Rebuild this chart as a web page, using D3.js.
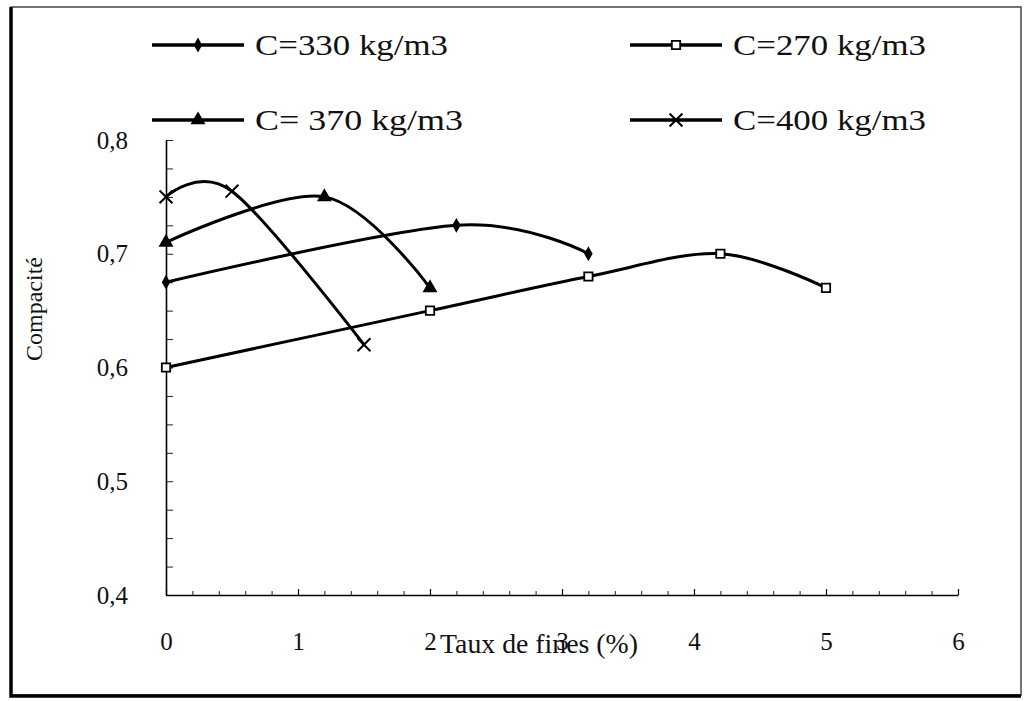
<!DOCTYPE html>
<html>
<head>
<meta charset="utf-8">
<script src="https://cdn.jsdelivr.net/npm/d3@7"></script>
<style>
  body { margin: 0; background: #fff; }
  svg { display: block; font-family: "Liberation Serif", "DejaVu Serif", serif; }
</style>
</head>
<body>
<svg id="chart"></svg>
<script>
// values
const fines330 = [0, 2.2, 3.2];
const comp330 = [0.675, 0.725, 0.70];
const fines270 = [0, 2, 3.2, 4.2, 5];
const comp270 = [0.60, 0.65, 0.68, 0.70, 0.67];
const fines370 = [0, 1.2, 2];
const comp370 = [0.71, 0.75, 0.67];
const fines400 = [0, 0.5, 1.5];
const comp400 = [0.75, 0.755, 0.62];

const seriesNames = ["C=330 kg/m3", "C=270 kg/m3", "C= 370 kg/m3", "C=400 kg/m3"];
const xTicks = [0, 1, 2, 3, 4, 5, 6];
const yTicks = [0.4, 0.5, 0.6, 0.7, 0.8];

const W = 1027, H = 701;
const margin = { left: 166, right: 69, top: 140, bottom: 106 };

const svg = d3.select('#chart').attr('width', W).attr('height', H);

// frame with the heavy left / bottom edge
svg.append('rect')
  .attr('x', 11).attr('y', 7).attr('width', 1010).attr('height', 688)
  .attr('fill', 'none').attr('stroke', '#444').attr('stroke-width', 1.5);
svg.append('path')
  .attr('d', `M11,7 V696 H1021`)
  .attr('fill', 'none').attr('stroke', '#000').attr('stroke-width', 3.5);

const xScale = d3.scaleLinear().domain([0, 6]).range([margin.left, W - margin.right]);
const yScale = d3.scaleLinear().domain([0.4, 0.8]).range([H - margin.bottom, margin.top]);

const fr = d3.formatLocale({ decimal: ",", thousands: " ", grouping: [3], currency: ["", "€"] });

// minor ticks
svg.append('g')
  .attr('transform', `translate(${margin.left},0)`)
  .call(d3.axisLeft(yScale).tickValues(d3.range(0.4, 0.8001, 0.025)).tickSize(-7).tickFormat(''))
  .call(g => g.select('.domain').remove())
  .call(g => g.selectAll('line').attr('stroke', '#222').attr('stroke-width', 1));
svg.append('g')
  .attr('transform', `translate(0,${yScale(0.4)})`)
  .call(d3.axisBottom(xScale).tickValues(d3.range(0, 6.001, 0.2)).tickSize(-4).tickFormat(''))
  .call(g => g.select('.domain').remove())
  .call(g => g.selectAll('line').attr('stroke', '#222').attr('stroke-width', 1));

// main axes
const yAxisG = svg.append('g')
  .attr('transform', `translate(${margin.left},0)`)
  .call(d3.axisLeft(yScale).tickValues(yTicks).tickSize(0).tickSizeOuter(0).tickPadding(38)
    .tickFormat(fr.format(".1f")));
const xAxisG = svg.append('g')
  .attr('transform', `translate(0,${yScale(0.4)})`)
  .call(d3.axisBottom(xScale).tickValues(xTicks).tickSize(-6).tickSizeOuter(0).tickPadding(37)
    .tickFormat(d3.format("d")));

[yAxisG, xAxisG].forEach(g => {
  g.attr('font-size', 25).attr('font-family', '"Liberation Serif", serif');
  g.select('.domain').attr('stroke', '#000').attr('stroke-width', 1.6);
  g.selectAll('.tick line').attr('stroke', '#000').attr('stroke-width', 1.2);
  g.selectAll('text').attr('fill', '#111');
});

// axis titles
svg.append('text')
  .attr('x', 440).attr('y', 653)
  .attr('fill', '#111').style('font-size', '27px')
  .attr('textLength', 198).attr('lengthAdjust', 'spacingAndGlyphs')
  .text('Taux de fines (%)');
svg.append('text')
  .attr('transform', 'translate(42,309) rotate(-90)')
  .attr('text-anchor', 'middle')
  .attr('fill', '#111').style('font-size', '24px')
  .text('Compacité');

// series
const series = [
  { name: seriesNames[0], xs: fines330, ys: comp330, symbol: d3.symbolDiamond, size: 36, fill: '#000' },
  { name: seriesNames[1], xs: fines270, ys: comp270, symbol: d3.symbolSquare, size: 70, fill: '#fff' },
  { name: seriesNames[2], xs: fines370, ys: comp370, symbol: d3.symbolTriangle, size: 60, fill: '#000' },
  { name: seriesNames[3], xs: fines400, ys: comp400, symbol: d3.symbolX, size: 110, fill: 'none' }
];

const line = d3.line()
  .x(d => xScale(d[0]))
  .y(d => yScale(d[1]))
  .curve(d3.curveCardinal.tension(0));

function drawMarker(g, s, x, y) {
  g.append('path')
    .attr('transform', `translate(${x},${y})`)
    .attr('d', d3.symbol().type(s.symbol).size(s.size)())
    .attr('fill', s.fill)
    .attr('stroke', '#000')
    .attr('stroke-width', s.symbol === d3.symbolX ? 2 : 1.8);
}

const plot = svg.append('g');
series.forEach(s => {
  const pts = s.xs.map((x, i) => [x, s.ys[i]]);
  plot.append('path')
    .datum(pts)
    .attr('d', line)
    .attr('fill', 'none')
    .attr('stroke', '#000')
    .attr('stroke-width', 3);
  pts.forEach(p => drawMarker(plot, s, xScale(p[0]), yScale(p[1])));
});

// legend
const legendPos = [
  { x: 152, y: 45 }, { x: 630, y: 45 }, { x: 152, y: 120 }, { x: 630, y: 120 }
];
const legendTextLen = [193, 193, 208, 193];
series.forEach((s, i) => {
  const p = legendPos[i];
  const g = svg.append('g').attr('class', 'legend');
  g.append('line')
    .attr('x1', p.x).attr('x2', p.x + 92).attr('y1', p.y).attr('y2', p.y)
    .attr('stroke', '#000').attr('stroke-width', 3.5);
  drawMarker(g, s, p.x + 46, p.y);
  g.append('text')
    .attr('x', p.x + 103).attr('y', p.y + 10)
    .attr('fill', '#111')
    .style('font-size', '30px')
    .attr('textLength', legendTextLen[i])
    .attr('lengthAdjust', 'spacingAndGlyphs')
    .text(s.name);
});
</script>
</body>
</html>
